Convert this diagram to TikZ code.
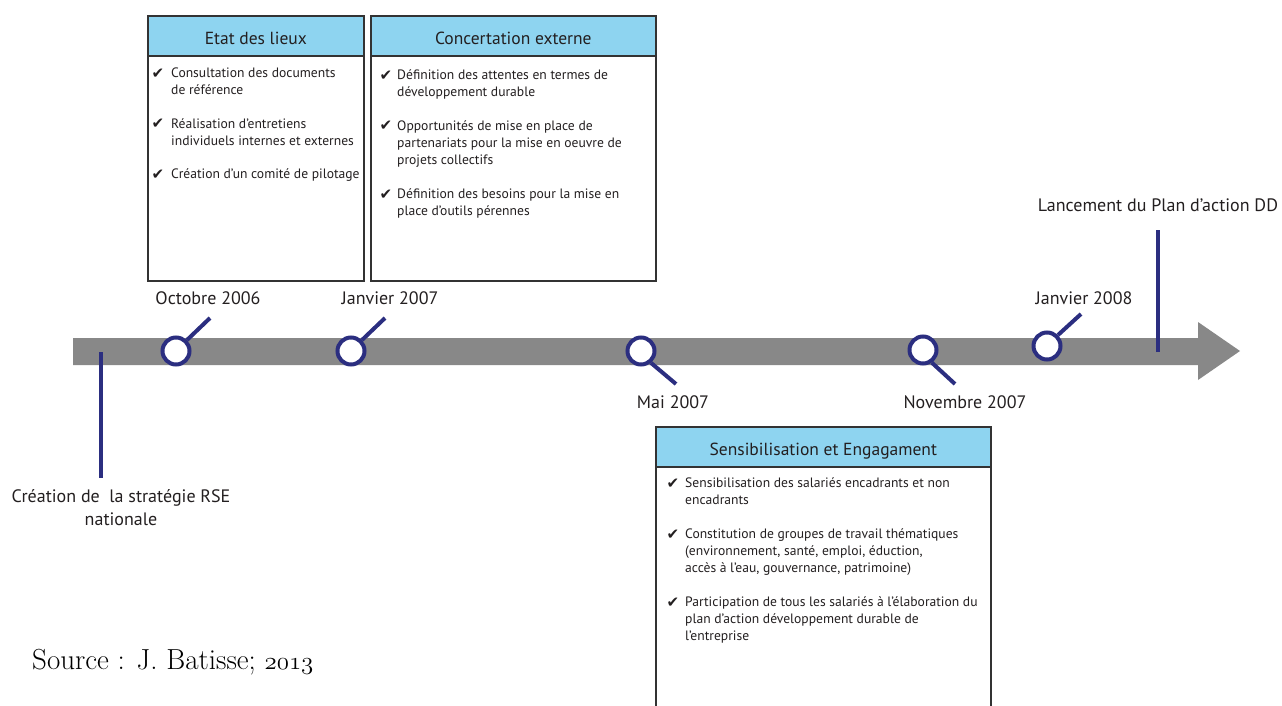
\documentclass[tikz,border=0pt]{standalone}
\usepackage{fontspec}
\setmainfont{PT Sans}
\newfontfamily\symfont{DejaVu Sans}
\newfontfamily\lmfont{Latin Modern Roman}
\usetikzlibrary{positioning}
\definecolor{navy}{RGB}{43,46,128}
\definecolor{headblue}{RGB}{142,212,240}
\definecolor{bargrey}{RGB}{136,136,136}
\definecolor{ink}{RGB}{35,31,32}
\definecolor{framegrey}{RGB}{51,51,51}
\newcommand{\oldnum}[1]{{\fontencoding{OML}\fontfamily{cmm}\fontseries{m}\fontshape{it}\selectfont #1}}
\begin{document}
\begin{tikzpicture}[
        x=1pt, y=-1pt,
        text=ink,
        font=\fontsize{16}{20}\selectfont
    ]
    \tikzset{
        lens/.style = {circle, draw=navy, line width=4pt, fill=white, minimum size=27pt, inner sep=0pt},
        handle/.style = {navy, line width=4pt},
        tickline/.style = {navy, line width=3.5pt},
        panel/.style = {rectangle, draw=framegrey, line width=1.6pt, fill=white, anchor=north west, inner sep=0pt},
        head/.style = {panel, fill=headblue, minimum height=40pt, text height=18pt, text depth=0pt, font=\fontsize{17.5}{20}\selectfont},
        item/.style = {anchor=north west, align=left, inner sep=0pt, font=\fontsize{13.6}{17}\selectfont},
        chk/.style = {anchor=center, inner sep=0pt, font=\symfont\fontsize{15}{15}\selectfont},
        datelbl/.style = {inner sep=0pt, font=\fontsize{18}{23}\selectfont, align=center},
    }
    \useasboundingbox (0,0) rectangle (1282,706);
    \clip (0,0) rectangle (1282,706);
    % timeline
    \fill[bargrey] (73,338) -- (1198,338) -- (1198,322) -- (1240,351) -- (1198,380) -- (1198,365) -- (73,365) -- cycle;
    \coordinate (s0) at (101,352);
    \coordinate (s6) at (1158,352);
    \coordinate (s6top) at (1158,230);
    \node[datelbl] (rse) at (121,508) {Création de~ la stratégie RSE\\nationale};
    \node[datelbl] (plan) at (1158,205) {Lancement du Plan d’action DD};
    \draw[tickline] (s0) -- ([yshift=12pt]rse.north -| s0);
    \draw[tickline] (s6) -- (s6top);
    %
    \node[lens] (o1) at (176,351) {};
    \node[lens] (o2) at (351,351) {};
    \node[lens] (o3) at (641,351) {};
    \node[lens] (o4) at (923,350) {};
    \node[lens] (o5) at (1047,346) {};
    \coordinate (h1) at (210,318);
    \coordinate (h2) at (385,318);
    \coordinate (h3) at (676,384);
    \coordinate (h4) at (955,384);
    \coordinate (h5) at (1081,314);
    \draw[handle] (o1.45) -- (h1);
    \draw[handle] (o2.45) -- (h2);
    \draw[handle] (o3.-50) -- (h3);
    \draw[handle] (o4.-55) -- (h4);
    \draw[handle] (o5.45) -- (h5);
    \node[datelbl] (d1) at (208,298) {Octobre 2006};
    \node[datelbl] (d2) at (390,298) {Janvier 2007};
    \node[datelbl] (d3) at (673,402) {Mai 2007};
    \node[datelbl] (d4) at (965,402) {Novembre 2007};
    \node[datelbl] (d5) at (1084,298) {Janvier 2008};
    %
    \node[panel, minimum width=216pt, minimum height=265pt] (lieux) at (147,15) {};
    \node[head, minimum width=216pt] (lieuxh) at (147,15) {Etat des lieux};
    \node[item] (l1) at (171,68) {Consultation des documents\\de référence};
    \node[item] (l2) at (171,119) {Réalisation d’entretiens\\individuels internes et externes};
    \node[item] (l3) at (171,169) {Création d’un comité de pilotage};
    \node[chk] (k1) at (158,74) {✔};
    \node[chk] (k2) at (158,124) {✔};
    \node[chk] (k3) at (158,175) {✔};
    %
    \node[panel, minimum width=285pt, minimum height=265pt] (concert) at (370,15) {};
    \node[head, minimum width=285pt] (concerth) at (370,15) {Concertation externe};
    \node[item] (c1) at (397,70) {Définition des attentes en termes de\\développement durable};
    \node[item] (c2) at (397,121) {Opportunités de mise en place de\\partenariats pour la mise en oeuvre de\\projets collectifs};
    \node[item] (c3) at (397,189) {Définition des besoins pour la mise en\\place d’outils pérennes};
    \node[chk] (k4) at (386,76) {✔};
    \node[chk] (k5) at (386,126) {✔};
    \node[chk] (k6) at (386,195) {✔};
    %
    \node[panel, minimum width=335pt, minimum height=300pt] (sensib) at (655,426) {};
    \node[head, minimum width=335pt] (sensibh) at (655,426) {Sensibilisation et Engagament};
    \node[item] (e1) at (685,478) {Sensibilisation des salariés encadrants et non\\encadrants};
    \node[item] (e2) at (685,529) {Constitution de groupes de travail thématiques\\(environnement, santé, emploi, éduction,\\accès à l’eau, gouvernance, patrimoine)};
    \node[item] (e3) at (685,597) {Participation de tous les salariés à l’élaboration du\\plan d’action développement durable de\\l’entreprise};
    \node[chk] (k7) at (673,484) {✔};
    \node[chk] (k8) at (673,535) {✔};
    \node[chk] (k9) at (673,603) {✔};
    %
    \node[anchor=west, inner sep=0pt, text=black, font=\lmfont\fontsize{29}{32}\selectfont] (src) at (32,662) {Source : J. Batisse; \oldnum{2013}};
\end{tikzpicture}
\end{document}
